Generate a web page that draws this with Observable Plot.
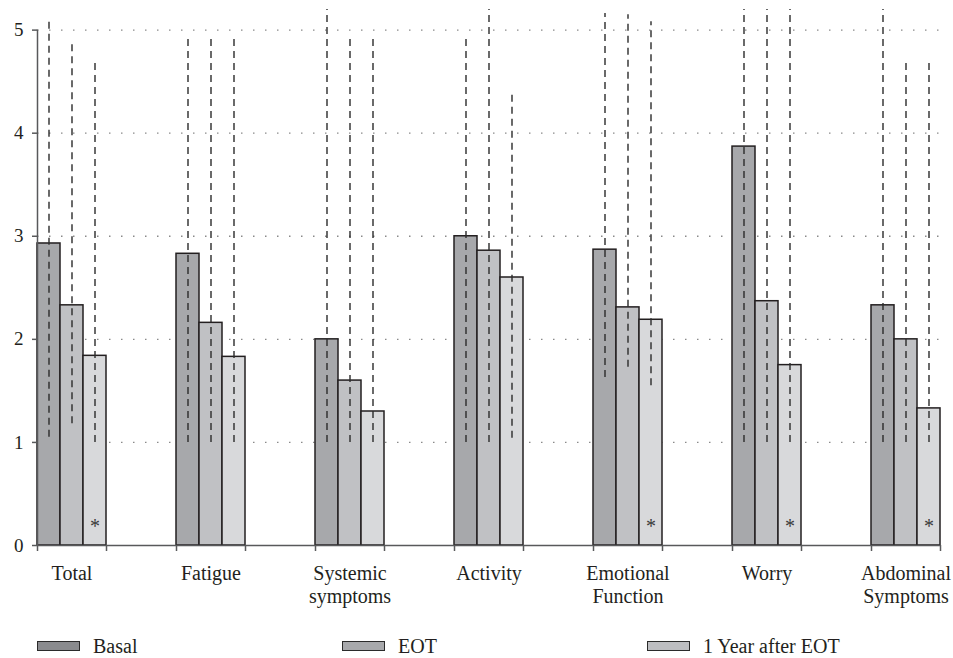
<!DOCTYPE html>
<html>
<head>
<meta charset="utf-8">
<script src="https://cdn.jsdelivr.net/npm/d3@7"></script>
<script src="https://cdn.jsdelivr.net/npm/@observablehq/plot@0.6"></script>
<style>
  html, body { margin: 0; padding: 0; background: #ffffff; }
  #chart { width: 953px; }
  .legend { display: flex; height: 24px; margin-top: 24px; padding-left: 37px;
            font-family: "Liberation Serif", "DejaVu Serif", serif; font-size: 20px; color: #231f20; }
  .item { width: 305px; display: flex; align-items: center; }
  .sw { width: 41px; height: 8px; border: 1.5px solid #2b2b2b; margin-right: 13px; }
</style>
</head>
<body>
<div id="chart"></div>
<script>
const categories = ["Total", "Fatigue", "Systemic\nsymptoms", "Activity", "Emotional\nFunction", "Worry", "Abdominal\nSymptoms"];
const series = ["Basal", "EOT", "1 Year after EOT"];
const basal = [2.93, 2.83, 2.00, 3.00, 2.87, 3.87, 2.33];
const eot   = [2.33, 2.16, 1.60, 2.86, 2.31, 2.37, 2.00];
const year1 = [1.84, 1.83, 1.30, 2.60, 2.19, 1.75, 1.33];
const basalLow  = [1.05, 1.00, 1.00, 1.00, 1.63, 1.00, 1.00];
const basalHigh = [5.09, 4.93, 5.20, 4.93, 5.16, 5.20, 5.20];
const eotLow    = [1.18, 1.00, 1.00, 1.00, 1.73, 1.00, 1.00];
const eotHigh   = [4.88, 4.95, 4.95, 5.20, 5.15, 5.20, 4.69];
const year1Low  = [1.00, 1.00, 1.00, 1.04, 1.55, 1.00, 1.00];
const year1High = [4.68, 4.95, 4.95, 4.38, 5.08, 5.20, 4.69];
const significant = [true, false, false, false, true, true, true]; // asterisk on "1 Year after EOT"
const yTicks = [0, 1, 2, 3, 4, 5];

const barColors = ["#a7a8ab", "#c0c1c4", "#d8d9db"];
const legendColors = ["#8a8b8e", "#a8a9ac", "#bdbec1"];

const values = [basal, eot, year1];
const lows = [basalLow, eotLow, year1Low];
const highs = [basalHigh, eotHigh, year1High];

const rows = [];
categories.forEach((cat, i) => {
  series.forEach((s, j) => {
    rows.push({cat, series: s, value: values[j][i], low: lows[j][i], high: highs[j][i], sig: j === 2 && significant[i]});
  });
});

const ink = "#231f20";
const font = "'Liberation Serif', 'DejaVu Serif', serif";
const insets = [{insetLeft: 0, insetRight: 46}, {insetLeft: 23, insetRight: 23}, {insetLeft: 46, insetRight: 0}];
const offsets = [-23, 0, 23];

const marks = [
  Plot.ruleY(yTicks.slice(1), {stroke: "#8a8a8a", strokeWidth: 1.3, strokeDasharray: "1.5,10.5"})
];
series.forEach((s, j) => {
  const d = rows.filter(r => r.series === s);
  marks.push(Plot.barY(d, {x: "cat", y: "value", fill: barColors[j], stroke: ink, strokeWidth: 1.5, ...insets[j]}));
});
series.forEach((s, j) => {
  const d = rows.filter(r => r.series === s);
  marks.push(Plot.ruleX(d, {x: "cat", y1: "low", y2: "high", dx: offsets[j], stroke: "#2b2b2b", strokeWidth: 1.4, strokeDasharray: "7,5"}));
});
marks.push(
  Plot.text(rows.filter(r => r.sig), {x: "cat", y: 0, text: () => "*", dx: 23, dy: -19, fontSize: 20, fill: "#3a3a3a"}),
  Plot.ruleY([0], {stroke: "#58595b", strokeWidth: 1.5}),
  Plot.ruleX([categories[0]], {x: d => d, y1: 0, y2: 5, dx: -34.5, stroke: "#58595b", strokeWidth: 1.5}),
  Plot.axisX({tickSize: 6, tickFormat: () => "", dx: -34.5, stroke: "#58595b", strokeWidth: 1.5}),
  Plot.axisX({tickSize: 6, tickFormat: () => "", dx: 34.5, stroke: "#58595b", strokeWidth: 1.5}),
  Plot.text(categories, {x: d => d, y: 0, text: d => d, dy: 18, lineAnchor: "top", lineHeight: 1.15, fontSize: 20, fill: ink}),
  Plot.axisY({ticks: yTicks, tickFormat: d3.format("d"), tickSize: 5, tickPadding: 9, fontSize: 19, label: null, stroke: "#58595b", strokeWidth: 1.5, fill: ink})
);

const chart = Plot.plot({
  width: 953,
  height: 610,
  marginLeft: 37,
  marginRight: 13,
  marginTop: 9,
  marginBottom: 65,
  style: {fontFamily: font, background: "#ffffff", color: ink},
  x: {domain: categories, paddingInner: 0.504, paddingOuter: 0, align: 0, label: null},
  y: {domain: [0, 5.2], label: null},
  marks
});
document.getElementById("chart").appendChild(chart);

const legend = document.createElement("div");
legend.className = "legend";
series.forEach((s, j) => {
  const item = document.createElement("div");
  item.className = "item";
  const sw = document.createElement("span");
  sw.className = "sw";
  sw.style.background = legendColors[j];
  const t = document.createElement("span");
  t.textContent = s;
  item.appendChild(sw);
  item.appendChild(t);
  legend.appendChild(item);
});
document.getElementById("chart").appendChild(legend);
</script>
</body>
</html>
